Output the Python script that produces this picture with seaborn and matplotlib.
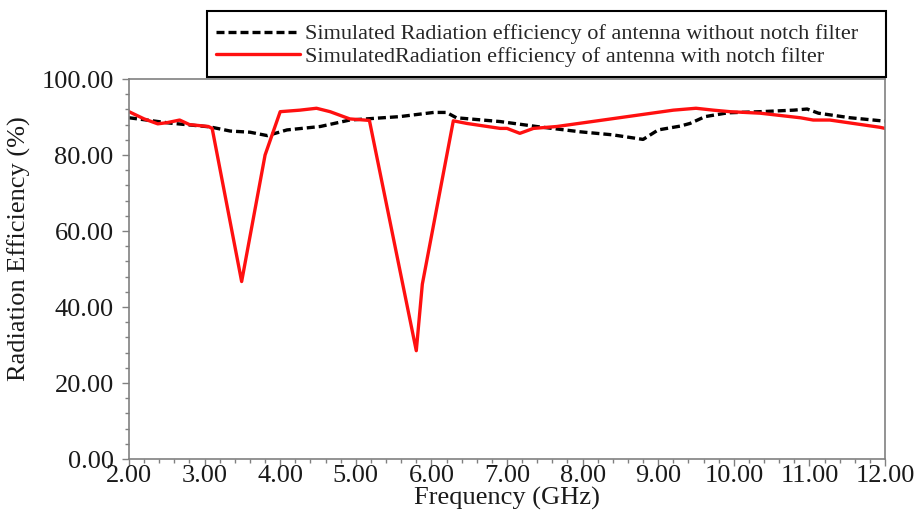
import numpy as np
import pandas as pd
import seaborn as sns
import matplotlib.pyplot as plt
from matplotlib.patches import Rectangle
from matplotlib.ticker import MultipleLocator, FormatStrFormatter

# frequency (GHz) / efficiency (%)
freq_without = [2.0, 2.54, 3.07, 3.34, 3.6, 3.83, 4.09, 4.53, 4.92, 5.58, 6.03, 6.2,
                6.33, 6.91, 7.39, 7.97, 8.4, 8.8, 9.0, 9.29, 9.42, 9.62, 9.92, 10.35,
                10.79, 10.97, 11.12, 11.54, 12.0]
eff_without = [89.8, 88.4, 87.4, 86.3, 86.0, 85.1, 86.6, 87.5, 89.2, 90.1, 91.2, 91.2,
               89.8, 88.8, 87.5, 86.1, 85.3, 84.1, 86.6, 87.6, 88.3, 90.1, 91.1, 91.4,
               91.8, 92.1, 91.0, 89.8, 88.9]

freq_with = [2.0, 2.2, 2.38, 2.5, 2.67, 2.8, 3.05, 3.1, 3.49, 3.8, 4.0, 4.26, 4.48,
             4.66, 4.92, 5.18, 5.8, 5.88, 6.29, 6.47, 6.91, 7.0, 7.17, 7.35, 7.66,
             9.2, 9.5, 9.73, 9.95, 10.35, 10.88, 11.05, 11.27, 11.93, 12.0]
eff_with = [91.4, 89.5, 88.2, 88.5, 89.2, 88.0, 87.5, 87.0, 46.7, 80.0, 91.4, 91.8, 92.3,
            91.4, 89.5, 89.1, 28.5, 46.0, 89.0, 88.3, 87.0, 87.0, 85.7, 87.0, 87.5,
            91.8, 92.3, 91.8, 91.4, 91.0, 89.8, 89.2, 89.2, 87.3, 87.0]

label_without = 'Simulated Radiation efficiency of antenna without notch filter'
label_with = 'SimulatedRadiation efficiency of antenna with notch filter'

sns.set_style('ticks')
plt.rcParams['font.family'] = ['Liberation Serif', 'DejaVu Serif']

W, H = 919, 513
fig = plt.figure(figsize=(W / 100, H / 100), dpi=100)
ax = fig.add_axes([129 / W, 1 - 459 / H, 756 / W, 380 / H])

df_without = pd.DataFrame({'f': freq_without, 'e': eff_without})
df_with = pd.DataFrame({'f': freq_with, 'e': eff_with})

sns.lineplot(data=df_without, x='f', y='e', ax=ax, color='black', linewidth=2.4,
             label=label_without)
ax.lines[-1].set_dashes((2.4, 1.2))
sns.lineplot(data=df_with, x='f', y='e', ax=ax, color='#ff1010', linewidth=2.4,
             label=label_with)

ax.set_xlim(2, 12)
ax.set_ylim(0, 100)
ax.xaxis.set_major_locator(MultipleLocator(1))
ax.xaxis.set_minor_locator(MultipleLocator(0.2))
ax.yaxis.set_major_locator(MultipleLocator(20))
ax.yaxis.set_minor_locator(MultipleLocator(4))
ax.xaxis.set_major_formatter(FormatStrFormatter('%.2f'))
ax.yaxis.set_major_formatter(FormatStrFormatter('%.2f'))

for sp in ax.spines.values():
    sp.set_color('#808080')
    sp.set_linewidth(1.2)
ax.tick_params(which='major', direction='out', length=5, width=1, color='#808080',
               labelsize=19, labelcolor='#1a1a1a')
ax.tick_params(axis='x', which='major', pad=-1)
ax.tick_params(axis='y', which='major', pad=6)
ax.tick_params(which='minor', direction='out', length=3, width=1, color='#808080')

ax.set_xlabel('Frequency (GHz)', fontsize=19, color='#1a1a1a', labelpad=0)
ax.set_ylabel('Radiation Efficiency (%)', fontsize=19, color='#1a1a1a')
ax.yaxis.set_label_coords(-0.129, 0.553)

# legend sits above the axes; its box is drawn separately (wider on the right)
leg = ax.legend(loc='upper left', bbox_to_anchor=(207 / W, 1 - 15 / H),
                bbox_transform=fig.transFigure, frameon=False,
                fontsize=16, handlelength=3.8, handletextpad=0.22, borderpad=0.4,
                labelspacing=0.1, borderaxespad=0)
fig.patches.append(Rectangle((207 / W, 1 - 77 / H), 679 / W, 66 / H,
                             transform=fig.transFigure, fill=False,
                             edgecolor='black', linewidth=1.5))

fig.savefig('out.png', dpi=100)
